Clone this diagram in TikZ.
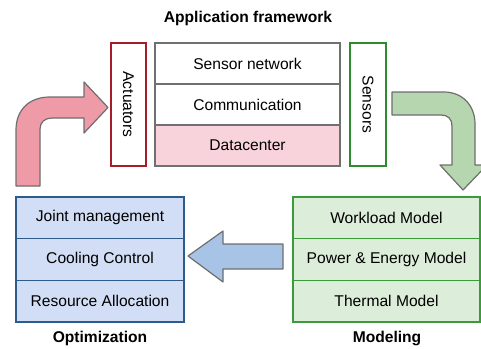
\documentclass[tikz,border=0pt]{standalone}
\usepackage{fontspec}
\setmainfont{Liberation Sans}
\definecolor{arrowgray}{RGB}{110,110,110}
\definecolor{pinkarrow}{RGB}{238,155,167}
\definecolor{greenarrow}{RGB}{181,214,174}
\definecolor{bluearrow}{RGB}{167,195,230}
\definecolor{dcfill}{RGB}{249,211,219}
\definecolor{optfill}{RGB}{210,222,245}
\definecolor{optborder}{RGB}{45,92,140}
\definecolor{modfill}{RGB}{220,237,217}
\definecolor{modborder}{RGB}{59,155,59}
\definecolor{actborder}{RGB}{165,28,42}
\definecolor{senborder}{RGB}{46,139,46}
\definecolor{stackgray}{RGB}{112,112,112}
\begin{document}
\begin{tikzpicture}[x=1pt,y=-1pt,
  every node/.style={font=\fontsize{15.6}{18}\selectfont, inner sep=0pt},
  layer/.style={draw=stackgray, line width=1.5pt, minimum width=185pt, minimum height=41pt},
  optlayer/.style={draw=optborder, fill=optfill, line width=1.5pt, minimum width=168pt, minimum height=41.7pt},
  modlayer/.style={draw=modborder, fill=modfill, line width=1.5pt, minimum width=187pt, minimum height=41.7pt},
  sidebox/.style={line width=1.5pt, minimum width=35pt, minimum height=123pt},
  bigarrow/.style={draw=arrowgray, line width=1.2pt, line join=round},
  title/.style={font=\fontsize{15.6}{18}\selectfont\bfseries}]
\useasboundingbox (0,0) rectangle (481,348);
\clip (0,0) rectangle (481,348);

% title
\node[title] (tit) at (248,18) {Application framework};

% central stack
\node[layer] (sn) at (247.5,63.5) {Sensor network};
\node[layer] (comm) at (247.5,104.5) {Communication};
\node[layer, fill=dcfill] (dc) at (247.5,145.5) {Datacenter};

% side boxes
\node[sidebox, draw=actborder] (act) at (128.5,104.5) {\rotatebox{-90}{Actuators}};
\node[sidebox, draw=senborder, minimum width=36pt] (sen) at (368,104.5) {\rotatebox{-90}{Sensors}};

% optimization stack
\node[optlayer] (jm) at (100,217.85) {Joint management};
\node[optlayer] (cc) at (100,259.5) {Cooling Control};
\node[optlayer] (ra) at (100,301.15) {Resource Allocation};
\node[title] (opt) at (100,338) {Optimization};

% modeling stack
\node[modlayer] (wm) at (386.5,217.85) {Workload Model};
\node[modlayer] (pem) at (386.5,259.5) {Power \& Energy Model};
\node[modlayer] (tm) at (386.5,301.15) {Thermal Model};
\node[title] (mod) at (387,338) {Modeling};

% red arrow: optimization -> actuators
\draw[bigarrow, fill=pinkarrow]
  (16,186) -- (16,130) .. controls (16,110) and (29,97) .. (50,97)
  -- (84,97) -- (84,82) -- (108,107.5) -- (84,133) -- (84,118)
  -- (52,118) .. controls (45,118) and (40,122) .. (40,129)
  -- (40,186) -- cycle;

% green arrow: sensors -> modeling
\draw[bigarrow, fill=greenarrow]
  (392,92) -- (444,92) .. controls (462,92) and (475,105) .. (475,124)
  -- (475,165) -- (487,165) -- (463,190) -- (440,165) -- (452,165)
  -- (452,126) .. controls (452,119) and (448,115) .. (441,115)
  -- (392,115) -- cycle;

% blue arrow: modeling -> optimization
\draw[bigarrow, fill=bluearrow]
  (188,256) -- (223,231) -- (223,244) -- (283,244) -- (283,269)
  -- (223,269) -- (223,282) -- cycle;
\end{tikzpicture}
\end{document}
